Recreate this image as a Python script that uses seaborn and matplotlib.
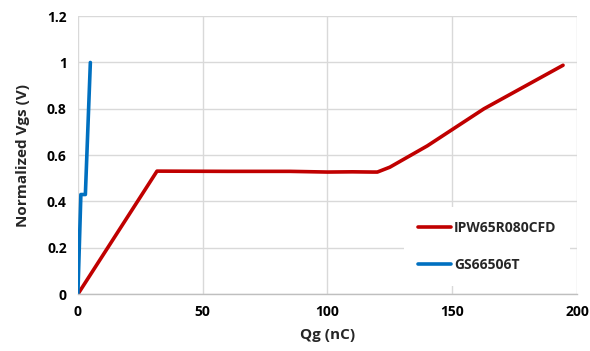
import matplotlib
matplotlib.use("Agg")
import matplotlib.pyplot as plt
import matplotlib.ticker as mticker
import seaborn as sns
import pandas as pd

# Data
ipw_qg = [0, 31.7, 60, 85, 100, 110, 118, 120, 125, 140, 162.7, 194.4]
ipw_vgs = [0, 0.531, 0.530, 0.530, 0.527, 0.528, 0.527, 0.527, 0.548, 0.64, 0.80, 0.988]
gs_qg = [0, 1.2, 3.0, 5.0]
gs_vgs = [0, 0.43, 0.43, 1.0]
series_names = ["IPW65R080CFD", "GS66506T"]
colors = ["#C00000", "#0070C0"]
x_ticks = [0, 50, 100, 150, 200]
y_ticks = [0, 0.2, 0.4, 0.6, 0.8, 1.0, 1.2]

df = pd.concat([
    pd.DataFrame({"Qg": ipw_qg, "Vgs": ipw_vgs, "Part": series_names[0]}),
    pd.DataFrame({"Qg": gs_qg, "Vgs": gs_vgs, "Part": series_names[1]}),
])

sns.set_theme(style="white")
plt.rcParams["font.family"] = ["Open Sans", "DejaVu Sans"]

fig = plt.figure(figsize=(5.9, 3.51), dpi=100)
ax = fig.add_axes([0.132, 0.162, 0.846, 0.792])

sns.lineplot(data=df, x="Qg", y="Vgs", hue="Part", palette=dict(zip(series_names, colors)),
             linewidth=2.6, sort=False, estimator=None, ax=ax)

ax.set_xlim(0, 200)
ax.set_ylim(0, 1.2)
ax.set_xticks(x_ticks)
ax.set_yticks(y_ticks)
ax.yaxis.set_major_formatter(mticker.FuncFormatter(lambda v, p: f"{v:g}"))
ax.grid(True, color="#D9D9D9", linewidth=1.0)
ax.set_axisbelow(True)
for s in ["top", "right", "left"]:
    ax.spines[s].set_visible(False)
ax.spines["bottom"].set_color("#BFBFBF")
ax.spines["bottom"].set_linewidth(1.0)
ax.tick_params(axis="both", length=0, pad=8, labelsize=10, colors="#000000")
for lab in ax.get_xticklabels() + ax.get_yticklabels():
    lab.set_fontweight("bold")

ax.set_xlabel("Qg (nC)", fontsize=11, fontweight="bold", labelpad=6)
ax.set_ylabel("Normalized Vgs (V)", fontsize=11, fontweight="bold", labelpad=12)

leg = ax.legend(loc="lower right", bbox_to_anchor=(1.0, 0.005), frameon=True,
                facecolor="white", edgecolor="white", framealpha=1.0,
                prop={"weight": "bold", "size": 10}, handlelength=2.4,
                labelspacing=1.65, handletextpad=0.2, borderpad=1.0)
leg.get_frame().set_linewidth(0)

fig.savefig("out.png", dpi=100)
